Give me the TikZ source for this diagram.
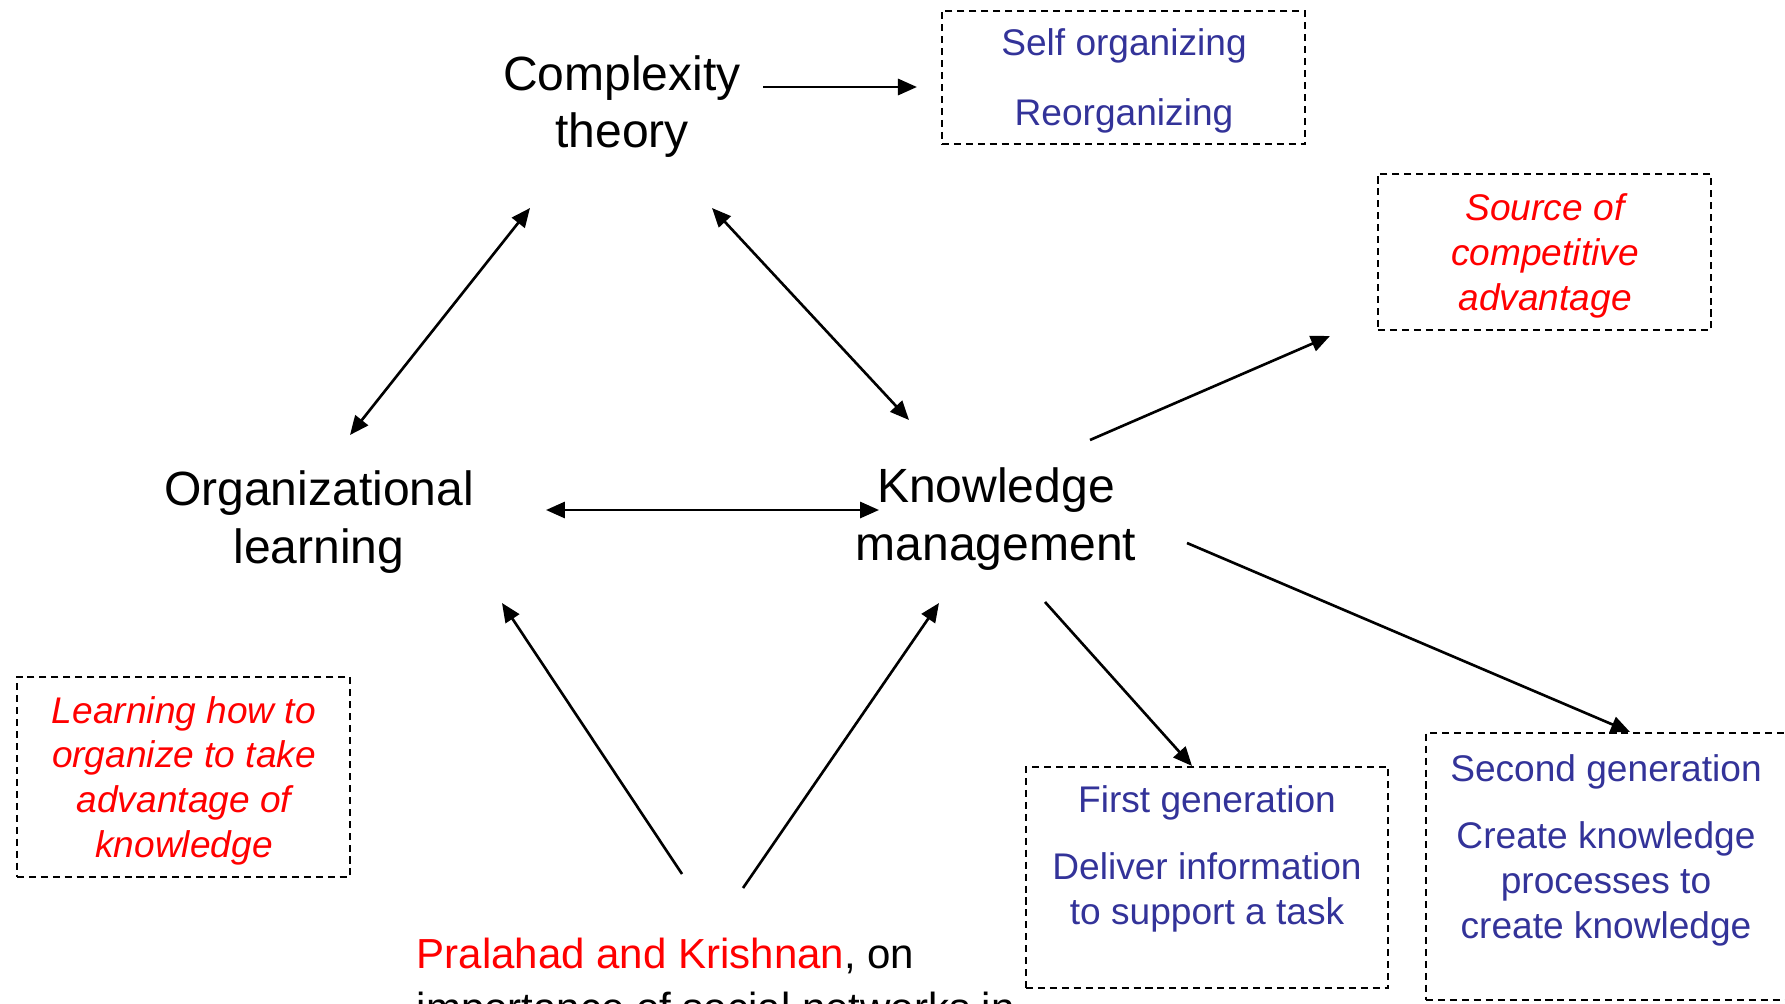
\documentclass[tikz,border=0pt]{standalone}
\usepackage{fontspec}
\setmainfont{Liberation Sans}
\usetikzlibrary{arrows.meta,calc}
\definecolor{noteblue}{RGB}{51,51,153}
\definecolor{notered}{RGB}{255,0,0}
\begin{document}
\begin{tikzpicture}[x=0.01cm,y=-0.01cm,
  concept/.style={align=center,inner sep=0pt,anchor=base,font=\fontsize{13.66pt}{16.22pt}\selectfont},
  note/.style={align=center,inner sep=0pt,anchor=base,font=\fontsize{10.55pt}{12.66pt}\selectfont},
  bluenote/.style={note,text=noteblue},
  rednote/.style={note,text=notered,font=\fontsize{10.55pt}{12.66pt}\selectfont\itshape},
  dbox/.style={draw,rectangle,dash pattern=on 2pt off 1.4pt,line width=0.55pt,inner sep=0pt},
  tip/.tip={Triangle[length=5.4pt,width=4.6pt]},
  arr/.style={line width=0.75pt,-tip},
  darr/.style={line width=0.75pt,tip-tip}]
\useasboundingbox (0,0) rectangle (1785,1003);
\clip (0,0) rectangle (1785,1003);

% dashed frames
\node[dbox,minimum width=3.63cm,minimum height=1.33cm] (selfbox)   at (1123.5,77.5) {};
\node[dbox,minimum width=3.33cm,minimum height=1.56cm] (srcbox)    at (1544.5,252) {};
\node[dbox,minimum width=3.33cm,minimum height=2.00cm] (learnbox)  at (183.5,777) {};
\node[dbox,minimum width=3.62cm,minimum height=2.21cm] (firstbox)  at (1207,877.5) {};
\node[dbox,minimum width=3.74cm,minimum height=2.67cm] (secondbox) at (1613,866.5) {};

% texts inside the frames (placed by the baseline of their last line)
\node[bluenote] (selftxt)   at (1124,125) {Self organizing\\[7pt]Reorganizing};
\node[rednote]  (srctxt)    at (1545,310) {Source of\\competitive\\advantage};
\node[rednote]  (learntxt)  at (184,857)  {Learning how to\\organize to take\\advantage of\\knowledge};
\node[bluenote] (firsttxt)  at (1207,924) {First generation\\[6.4pt]Deliver information\\to support a task};
\node[bluenote] (secondtxt) at (1606,938) {Second generation\\[6.4pt]Create knowledge\\processes to\\create knowledge};

% main concepts
\node[concept,font=\fontsize{13.66pt}{16pt}\selectfont] (ct) at (622,147) {Complexity\\theory};
\node[concept] (ol) at (319,563) {Organizational\\learning};
\node[concept] (km) at (996,560) {Knowledge\\management};
\node[anchor=base west,align=left,inner sep=0pt,font=\fontsize{11.95pt}{15.08pt}\selectfont] (pk) at (416,1022)
  {\textcolor{notered}{Pralahad and Krishnan}, on\\importance of social networks in};

% connectors
\draw[arr]  ($(ct.base)+(141,-60)$) -- ($(selfbox.west)+(-24,9.5)$);
\draw[darr] ($(ct.base)+(-92,61)$)  -- ($(ol.base)+(31,-128)$);
\draw[darr] ($(ct.base)+(90,61)$)   -- ($(km.base)+(-87,-140)$);
\draw[darr] ($(ol.base)+(227,-53)$) -- ($(km.base)+(-117,-50)$);
\draw[arr]  ($(km.base)+(94,-120)$) -- ($(srcbox.south west)+(-47,5)$);
\draw[arr]  ($(km.base)+(49,42)$)   -- ($(firstbox.north)+(-15,0)$);
\draw[arr]  ($(km.base)+(191,-17)$) -- ($(secondbox.north)+(17,0)$);
\draw[arr]  ($(pk.base west)+(266,-148)$) -- ($(ol.base)+(183,40)$);
\draw[arr]  ($(pk.base west)+(327,-134)$) -- ($(km.base)+(-57,43)$);
\end{tikzpicture}
\end{document}
